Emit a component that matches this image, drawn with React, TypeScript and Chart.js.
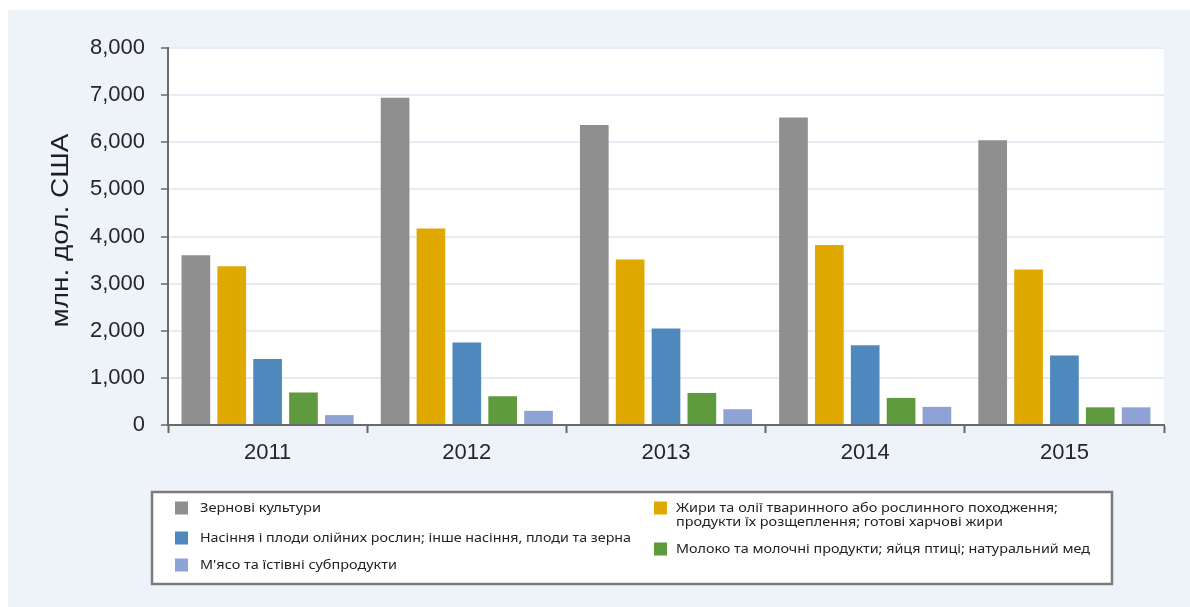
import React, { useEffect, useRef } from "react";
import { Chart, registerables } from "chart.js";

Chart.register(...registerables);

// ---------- data ----------
const years = ["2011", "2012", "2013", "2014", "2015"];
const grainValues = [3600, 6945, 6365, 6525, 6045];
const fatsValues = [3370, 4170, 3510, 3820, 3300];
const oilseedValues = [1400, 1750, 2050, 1690, 1475];
const dairyValues = [690, 610, 680, 575, 375];
const meatValues = [210, 300, 335, 385, 375];

const yMin = 0;
const yMax = 8000;
const yStep = 1000;
const yTitle = "млн. дол. США";

const seriesLabels = [
  "Зернові культури",
  "Жири та олії тваринного або рослинного походження;\nпродукти їх розщеплення; готові харчові жири",
  "Насіння і плоди олійних рослин; інше насіння, плоди та зерна",
  "Молоко та молочні продукти; яйця птиці; натуральний мед",
  "М'ясо та їстівні субпродукти",
];

// ---------- styles / layout ----------
const seriesColors = ["#8f8f8f", "#e0a900", "#4f88bd", "#5f9a3e", "#8fa2d6"];
const FONT = "'Liberation Sans', Arial, sans-serif";
const OX = 8; // canvas page offset
const OY = 10;
const CW = 1182;
const CH = 597;

// legend layout in page coordinates: [seriesIndex, squareX, textX, firstLineY, lineWidths]
const legendLayout: [number, number, number, number, number[]][] = [
  [0, 175, 200, 508, [121]],
  [2, 175, 200, 538, [431]],
  [4, 175, 200, 565, [197]],
  [1, 654, 676, 508, [382, 327]],
  [3, 654, 676, 549, [414]],
];
const legendBox = { x: 152, y: 492, w: 960, h: 92 };

function fillFitted(ctx: CanvasRenderingContext2D, text: string, x: number, y: number, width: number) {
  const w = ctx.measureText(text).width;
  ctx.save();
  ctx.translate(x, y);
  ctx.scale(width / w, 1);
  ctx.fillText(text, 0, 0);
  ctx.restore();
}

const decorPlugin = {
  id: "decor",
  beforeDraw(chart: any) {
    const { ctx, chartArea } = chart;
    ctx.save();
    ctx.fillStyle = "#ffffff";
    ctx.fillRect(chartArea.left, chartArea.top, chartArea.right - chartArea.left, chartArea.bottom - chartArea.top);
    ctx.restore();
  },
  afterDraw(chart: any) {
    const { ctx, chartArea } = chart;
    ctx.save();
    // y-axis title
    ctx.fillStyle = "#1e1e1e";
    ctx.font = `24px ${FONT}`;
    ctx.textAlign = "center";
    ctx.textBaseline = "middle";
    ctx.save();
    ctx.translate(61.5 - OX, (chartArea.top + chartArea.bottom) / 2 - 6);
    ctx.rotate(-Math.PI / 2);
    fillFitted(ctx, yTitle, 0, 0, 194);
    ctx.restore();

    // legend box
    const bx = legendBox.x - OX;
    const by = legendBox.y - OY;
    ctx.fillStyle = "#ffffff";
    ctx.fillRect(bx, by, legendBox.w, legendBox.h);
    ctx.strokeStyle = "#7b7b7b";
    ctx.lineWidth = 2.5;
    ctx.strokeRect(bx, by, legendBox.w, legendBox.h);

    ctx.font = `13px 'Noto Sans', sans-serif`;
    ctx.textAlign = "left";
    ctx.textBaseline = "middle";
    legendLayout.forEach(([si, sx, tx, ly, widths]) => {
      const ds = chart.data.datasets[si];
      ctx.fillStyle = ds.backgroundColor;
      ctx.fillRect(sx - OX, ly - 6.5 - OY, 13, 13);
      ctx.fillStyle = "#222222";
      const lines = seriesLabels[si].split("\n");
      lines.forEach((line, i) => {
        fillFitted(ctx, line, tx - OX, ly + i * 14 - OY, widths[i]);
      });
    });
    ctx.restore();
  },
};

export default function App() {
  const ref = useRef<HTMLCanvasElement | null>(null);

  useEffect(() => {
    if (!ref.current) return;
    const values = [grainValues, fatsValues, oilseedValues, dairyValues, meatValues];
    const chart = new Chart(ref.current, {
      type: "bar",
      data: {
        labels: years,
        datasets: values.map((v, i) => ({
          label: seriesLabels[i].replace("\n", " "),
          data: v,
          backgroundColor: seriesColors[i],
          borderWidth: 0,
          categoryPercentage: 0.9,
          barPercentage: 0.8,
        })),
      },
      options: {
        animation: false,
        responsive: false,
        devicePixelRatio: 1,
        locale: "en-US",
        layout: { padding: { top: 38, right: 26, left: 0, bottom: 122 } },
        plugins: {
          legend: { display: false },
          tooltip: { enabled: false },
          title: { display: false },
        },
        scales: {
          x: {
            offset: true,
            grid: {
              offset: true,
              drawOnChartArea: false,
              drawTicks: true,
              tickLength: 8,
              tickColor: "#666666",
              tickWidth: 2,
            },
            border: { color: "#6a6a6a", width: 2 },
            ticks: {
              color: "#262626",
              font: { family: FONT, size: 22 },
              padding: 7,
            },
            afterFit(scale: any) {
              scale.height = 60;
            },
          },
          y: {
            min: yMin,
            max: yMax,
            ticks: {
              stepSize: yStep,
              color: "#262626",
              font: { family: FONT, size: 22 },
              padding: 16,
            },
            grid: {
              color: "#e4ecf6",
              lineWidth: 2,
              tickColor: "#666666",
              tickWidth: 1.5,
              tickLength: 7,
            },
            border: { color: "#6a6a6a", width: 2 },
            afterFit(scale: any) {
              scale.width = 160;
            },
          },
        },
      },
      plugins: [decorPlugin],
    });
    return () => chart.destroy();
  }, []);

  return (
    <div
      style={{
        position: "absolute",
        left: OX,
        top: OY,
        width: CW,
        height: CH,
        background: "#eef3fa",
      }}
    >
      <canvas ref={ref} width={CW} height={CH} style={{ width: CW, height: CH, display: "block" }} />
    </div>
  );
}
